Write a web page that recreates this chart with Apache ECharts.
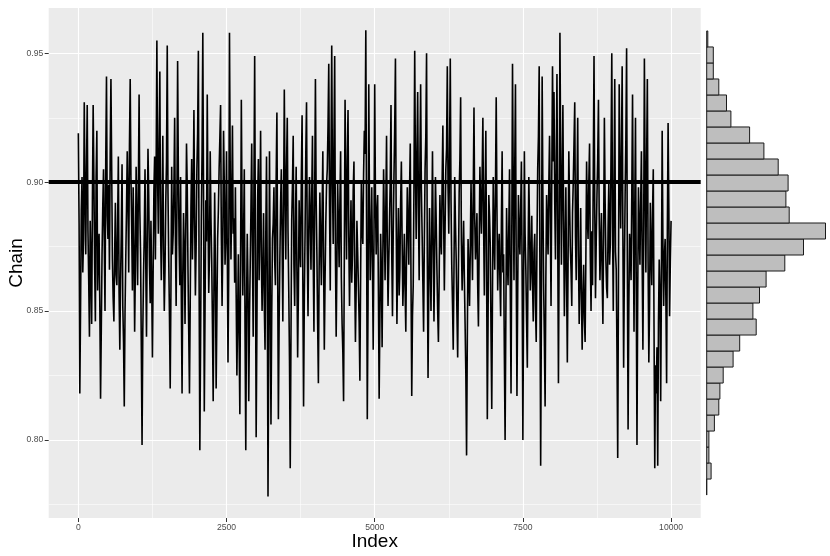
<!DOCTYPE html>
<html>
<head>
<meta charset="utf-8">
<style>
  html, body { margin: 0; padding: 0; background: #ffffff; }
  #chart { width: 830px; height: 556px; }
</style>
<script src="https://cdn.jsdelivr.net/npm/echarts@6/dist/echarts.min.js"></script>
</head>
<body>
<div id="chart"></div>
<script>
// chain values, one every 12.5 iterations
const chainStep = 12.5
const chainValues = [
  0.919, 0.884, 0.818, 0.851, 0.889, 0.902, 0.865, 0.878, 0.931, 0.896, 0.872, 0.905, 0.930, 0.881, 0.862, 0.840, 0.885, 0.868, 0.845, 0.892,
  0.930, 0.901, 0.868, 0.846, 0.902, 0.920, 0.858, 0.874, 0.880, 0.852, 0.816, 0.843, 0.872, 0.891, 0.905, 0.877, 0.850, 0.908, 0.941, 0.887,
  0.878, 0.899, 0.866, 0.911, 0.940, 0.906, 0.870, 0.855, 0.846, 0.871, 0.892, 0.864, 0.860, 0.883, 0.910, 0.857, 0.835, 0.862, 0.880, 0.907,
  0.852, 0.838, 0.813, 0.849, 0.870, 0.889, 0.912, 0.893, 0.865, 0.914, 0.940, 0.902, 0.883, 0.858, 0.898, 0.876, 0.842, 0.867, 0.906, 0.884,
  0.860, 0.897, 0.934, 0.889, 0.872, 0.836, 0.798, 0.842, 0.864, 0.880, 0.905, 0.869, 0.840, 0.878, 0.913, 0.895, 0.868, 0.853, 0.885, 0.861,
  0.832, 0.866, 0.897, 0.910, 0.870, 0.904, 0.955, 0.901, 0.880, 0.915, 0.943, 0.882, 0.862, 0.887, 0.918, 0.874, 0.850, 0.866, 0.892, 0.908,
  0.953, 0.896, 0.870, 0.848, 0.820, 0.859, 0.906, 0.872, 0.880, 0.897, 0.925, 0.879, 0.852, 0.888, 0.947, 0.903, 0.876, 0.860, 0.902, 0.855,
  0.818, 0.864, 0.888, 0.873, 0.845, 0.881, 0.915, 0.898, 0.866, 0.842, 0.818, 0.853, 0.890, 0.909, 0.870, 0.891, 0.928, 0.885, 0.856, 0.875,
  0.905, 0.919, 0.951, 0.862, 0.796, 0.838, 0.885, 0.912, 0.958, 0.894, 0.811, 0.850, 0.893, 0.877, 0.934, 0.890, 0.857, 0.871, 0.912, 0.886,
  0.870, 0.845, 0.815, 0.858, 0.896, 0.867, 0.820, 0.849, 0.878, 0.889, 0.905, 0.917, 0.930, 0.880, 0.852, 0.876, 0.920, 0.899, 0.868, 0.879,
  0.912, 0.874, 0.830, 0.866, 0.958, 0.905, 0.870, 0.893, 0.922, 0.880, 0.886, 0.861, 0.898, 0.857, 0.825, 0.848, 0.872, 0.839, 0.810, 0.870,
  0.932, 0.888, 0.856, 0.878, 0.905, 0.842, 0.796, 0.851, 0.880, 0.860, 0.815, 0.847, 0.868, 0.890, 0.915, 0.873, 0.840, 0.898, 0.949, 0.876,
  0.801, 0.843, 0.893, 0.909, 0.862, 0.885, 0.920, 0.871, 0.850, 0.867, 0.888, 0.852, 0.835, 0.879, 0.910, 0.864, 0.778, 0.837, 0.912, 0.860,
  0.806, 0.848, 0.878, 0.884, 0.898, 0.870, 0.860, 0.901, 0.927, 0.869, 0.808, 0.846, 0.870, 0.892, 0.905, 0.879, 0.846, 0.889, 0.936, 0.897,
  0.870, 0.906, 0.925, 0.881, 0.858, 0.831, 0.789, 0.840, 0.885, 0.899, 0.918, 0.868, 0.852, 0.883, 0.906, 0.866, 0.832, 0.857, 0.893, 0.875,
  0.867, 0.903, 0.926, 0.862, 0.813, 0.855, 0.880, 0.911, 0.931, 0.874, 0.848, 0.881, 0.902, 0.887, 0.866, 0.894, 0.918, 0.871, 0.842, 0.895,
  0.940, 0.893, 0.872, 0.845, 0.822, 0.866, 0.896, 0.877, 0.860, 0.888, 0.912, 0.869, 0.835, 0.862, 0.884, 0.899, 0.905, 0.922, 0.946, 0.892,
  0.858, 0.907, 0.953, 0.900, 0.876, 0.915, 0.949, 0.872, 0.840, 0.868, 0.900, 0.884, 0.867, 0.891, 0.912, 0.863, 0.845, 0.834, 0.815, 0.871,
  0.932, 0.896, 0.870, 0.908, 0.928, 0.879, 0.852, 0.874, 0.893, 0.861, 0.872, 0.897, 0.908, 0.865, 0.838, 0.859, 0.885, 0.873, 0.860, 0.846,
  0.823, 0.864, 0.900, 0.882, 0.876, 0.903, 0.920, 0.911, 0.959, 0.886, 0.808, 0.853, 0.938, 0.889, 0.862, 0.880, 0.898, 0.867, 0.835, 0.876,
  0.938, 0.894, 0.872, 0.888, 0.895, 0.858, 0.816, 0.847, 0.880, 0.866, 0.836, 0.872, 0.905, 0.884, 0.862, 0.890, 0.918, 0.875, 0.852, 0.869,
  0.885, 0.901, 0.930, 0.873, 0.848, 0.880, 0.902, 0.921, 0.948, 0.886, 0.845, 0.870, 0.890, 0.856, 0.866, 0.892, 0.908, 0.878, 0.852, 0.864,
  0.880, 0.858, 0.842, 0.874, 0.898, 0.883, 0.868, 0.896, 0.915, 0.862, 0.817, 0.848, 0.860, 0.899, 0.951, 0.905, 0.878, 0.911, 0.935, 0.890,
  0.862, 0.907, 0.938, 0.897, 0.880, 0.861, 0.842, 0.877, 0.905, 0.918, 0.950, 0.871, 0.824, 0.859, 0.890, 0.868, 0.850, 0.881, 0.912, 0.876,
  0.846, 0.873, 0.902, 0.885, 0.866, 0.850, 0.838, 0.862, 0.895, 0.879, 0.872, 0.900, 0.922, 0.887, 0.858, 0.882, 0.905, 0.913, 0.945, 0.898,
  0.880, 0.910, 0.948, 0.893, 0.868, 0.853, 0.835, 0.866, 0.902, 0.884, 0.870, 0.849, 0.832, 0.865, 0.896, 0.909, 0.933, 0.877, 0.858, 0.871,
  0.885, 0.863, 0.845, 0.826, 0.794, 0.839, 0.878, 0.867, 0.852, 0.873, 0.900, 0.880, 0.862, 0.895, 0.929, 0.886, 0.870, 0.878, 0.888, 0.860,
  0.844, 0.875, 0.906, 0.891, 0.880, 0.902, 0.925, 0.883, 0.856, 0.894, 0.920, 0.869, 0.808, 0.845, 0.895, 0.887, 0.875, 0.841, 0.812, 0.858,
  0.902, 0.879, 0.866, 0.897, 0.933, 0.890, 0.858, 0.873, 0.880, 0.862, 0.848, 0.884, 0.912, 0.865, 0.872, 0.833, 0.800, 0.847, 0.890, 0.870,
  0.860, 0.882, 0.905, 0.859, 0.818, 0.877, 0.946, 0.899, 0.862, 0.905, 0.938, 0.868, 0.817, 0.856, 0.895, 0.881, 0.872, 0.889, 0.908, 0.864,
  0.800, 0.858, 0.912, 0.880, 0.866, 0.846, 0.828, 0.871, 0.902, 0.884, 0.858, 0.868, 0.887, 0.861, 0.846, 0.873, 0.880, 0.852, 0.838, 0.876,
  0.905, 0.918, 0.945, 0.864, 0.790, 0.850, 0.941, 0.895, 0.860, 0.839, 0.813, 0.862, 0.895, 0.883, 0.872, 0.899, 0.918, 0.887, 0.852, 0.901,
  0.945, 0.908, 0.935, 0.892, 0.870, 0.906, 0.942, 0.881, 0.822, 0.877, 0.958, 0.911, 0.868, 0.897, 0.930, 0.885, 0.848, 0.874, 0.898, 0.862,
  0.830, 0.869, 0.912, 0.893, 0.875, 0.866, 0.852, 0.888, 0.900, 0.915, 0.931, 0.879, 0.862, 0.896, 0.925, 0.872, 0.845, 0.863, 0.890, 0.857,
  0.835, 0.855, 0.868, 0.847, 0.838, 0.870, 0.908, 0.886, 0.878, 0.900, 0.915, 0.871, 0.850, 0.881, 0.860, 0.903, 0.949, 0.890, 0.855, 0.877,
  0.895, 0.909, 0.932, 0.887, 0.862, 0.875, 0.888, 0.864, 0.845, 0.880, 0.925, 0.893, 0.870, 0.859, 0.855, 0.882, 0.900, 0.868, 0.876, 0.912,
  0.950, 0.884, 0.850, 0.898, 0.940, 0.873, 0.866, 0.834, 0.793, 0.861, 0.938, 0.904, 0.882, 0.910, 0.945, 0.878, 0.828, 0.866, 0.895, 0.917,
  0.952, 0.869, 0.804, 0.851, 0.880, 0.874, 0.862, 0.895, 0.934, 0.886, 0.842, 0.889, 0.925, 0.860, 0.798, 0.857, 0.898, 0.883, 0.868, 0.892,
  0.912, 0.870, 0.835, 0.878, 0.948, 0.901, 0.865, 0.907, 0.940, 0.869, 0.830, 0.852, 0.892, 0.873, 0.860, 0.888, 0.905, 0.844, 0.789, 0.829,
  0.818, 0.836, 0.790, 0.845, 0.870, 0.858, 0.815, 0.862, 0.920, 0.877, 0.852, 0.871, 0.878, 0.855, 0.822, 0.881, 0.923, 0.890, 0.848, 0.869,
  0.885
]
const targetValue = 0.90

// histogram, bins from the bottom up
const binStart = 0.7786
const binWidth = 0.00621
const binCounts = [
  0, 4, 2, 2, 7, 11, 12, 15, 24, 30,
  45, 42, 48, 54, 71, 88, 108, 75, 72, 74,
  65, 52, 39, 22, 18, 11, 6, 6, 1
]

const xTicks = [0, 2500, 5000, 7500, 10000]
const yTicks = [0.80, 0.85, 0.90, 0.95]

const yMin = 0.7697
const yMax = 0.9676
const font = 'Liberation Sans, Arial, sans-serif'

const chart = echarts.init(document.getElementById('chart'), null, { renderer: 'canvas' })

const traceData = chainValues.map((v, i) => [i * chainStep, v])
const histData = binCounts.map((c, i) => [binStart + i * binWidth, binStart + (i + 1) * binWidth, c])

const option = {
  animation: false,
  grid: [
    { left: 48.7, width: 652, top: 8, height: 510, outerBoundsMode: 'none', containLabel: false, show: true, backgroundColor: '#EBEBEB', borderWidth: 0 },
    { left: 706.7, width: 123.2, top: 8, height: 510, outerBoundsMode: 'none', containLabel: false }
  ],
  xAxis: [
    {
      gridIndex: 0,
      type: 'value',
      min: -500,
      max: 10500,
      minInterval: 2500,
      maxInterval: 2500,
      name: 'Index',
      nameLocation: 'middle',
      nameGap: 14,
      nameMoveOverlap: false,
      nameTextStyle: { fontFamily: font, fontSize: 19, color: '#000000' },
      axisLine: { show: false, onZero: false },
      axisTick: { show: true, length: 4, customValues: xTicks, lineStyle: { color: '#333333', width: 1 } },
      axisLabel: {
        customValues: xTicks,
        margin: 5,
        fontFamily: font,
        fontSize: 8.6,
        color: '#4D4D4D',
        formatter: v => String(v)
      },
      splitLine: { show: true, lineStyle: { color: '#FFFFFF', width: 1.1 } },
      minorTick: { show: false, splitNumber: 2 },
      minorSplitLine: { show: true, lineStyle: { color: '#FFFFFF', width: 0.55 } }
    },
    {
      gridIndex: 1,
      type: 'value',
      min: 0,
      max: 112,
      show: false,
      axisLine: { onZero: false },
      splitLine: { show: false }
    }
  ],
  yAxis: [
    {
      gridIndex: 0,
      type: 'value',
      min: yMin,
      max: yMax,
      minInterval: 0.05,
      maxInterval: 0.05,
      name: 'Chain',
      nameLocation: 'middle',
      nameGap: 22,
      nameMoveOverlap: false,
      nameTextStyle: { fontFamily: font, fontSize: 19, color: '#000000' },
      axisLine: { show: false, onZero: false },
      axisTick: { show: true, length: 4, customValues: yTicks, lineStyle: { color: '#333333', width: 1 } },
      axisLabel: {
        customValues: yTicks,
        margin: 5.4,
        fontFamily: font,
        fontSize: 8.6,
        color: '#4D4D4D',
        formatter: v => v.toFixed(2)
      },
      splitLine: { show: true, lineStyle: { color: '#FFFFFF', width: 1.1 } },
      minorTick: { show: false, splitNumber: 2 },
      minorSplitLine: { show: true, lineStyle: { color: '#FFFFFF', width: 0.55 } }
    },
    {
      gridIndex: 1,
      type: 'value',
      min: yMin,
      max: yMax,
      show: false,
      axisLine: { onZero: false },
      splitLine: { show: false }
    }
  ],
  series: [
    {
      name: 'chain',
      type: 'line',
      xAxisIndex: 0,
      yAxisIndex: 0,
      data: traceData,
      showSymbol: false,
      symbol: 'none',
      silent: true,
      lineStyle: { color: '#000000', width: 1.6 },
      markLine: {
        silent: true,
        symbol: ['none', 'none'],
        label: { show: false },
        lineStyle: { color: '#000000', width: 4.2, type: 'solid' },
        data: [{ yAxis: targetValue }]
      }
    },
    {
      name: 'histogram',
      type: 'custom',
      xAxisIndex: 1,
      yAxisIndex: 1,
      silent: true,
      data: histData,
      renderItem: (params, api) => {
        const p0 = api.coord([0, api.value(0)])
        const p1 = api.coord([api.value(2), api.value(1)])
        return {
          type: 'rect',
          shape: { x: p0[0], y: p1[1], width: p1[0] - p0[0], height: p0[1] - p1[1] },
          style: { fill: '#BEBEBE', stroke: '#1A1A1A', lineWidth: 1 }
        }
      }
    }
  ]
}

chart.setOption(option)
</script>
</body>
</html>
